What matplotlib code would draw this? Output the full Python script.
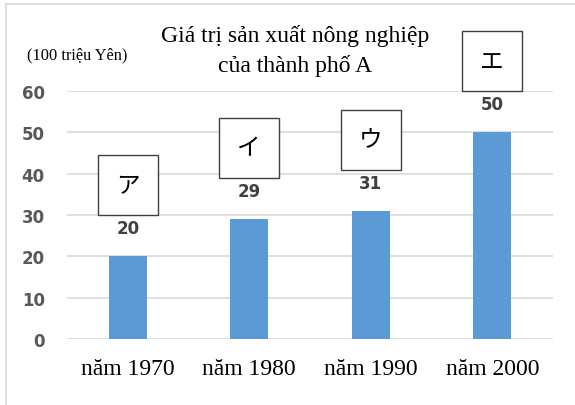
import matplotlib
matplotlib.use("Agg")
import matplotlib.pyplot as plt
import matplotlib.transforms as mtransforms
from matplotlib.patches import Rectangle
from matplotlib.lines import Line2D

categories = ["năm 1970", "năm 1980", "năm 1990", "năm 2000"]
values = [20, 29, 31, 50]
box_labels = ["ア", "イ", "ウ", "エ"]
yticks = [0, 10, 20, 30, 40, 50, 60]
title = "Giá trị sản xuất nông nghiệp\ncủa thành phố A"
unit_label = "(100 triệu Yên)"

W, H = 575, 406
fig = plt.figure(figsize=(W / 100, H / 100), dpi=100)
fig.patch.set_facecolor("white")

ax = fig.add_axes([67 / W, (H - 340) / H, (553 - 67) / W, (340 - 92) / H])
x = list(range(len(categories)))
ax.bar(x, values, width=0.31, color="#5B9BD5", zorder=3)
ax.set_xlim(-0.5, len(categories) - 0.5)
ax.set_ylim(0, 60)
ax.set_yticks(yticks)
ax.set_yticklabels([str(t) for t in yticks], fontsize=12, fontweight="bold",
                   color="#595959", family="DejaVu Sans")
ax.set_xticks(x)
ax.set_xticklabels(categories, fontsize=17, family="Liberation Serif", color="black")
ax.tick_params(axis="both", length=0)
ax.tick_params(axis="y", pad=16)
ax.tick_params(axis="x", pad=14)
ax.grid(axis="y", color="#D9D9D9", linewidth=1.2, zorder=0)
for s in ax.spines.values():
    s.set_visible(False)
ax.set_axisbelow(True)

for xi, v, lab in zip(x, values, box_labels):
    ax.annotate(str(v), (xi, v), xytext=(0, 28 * 0.72), textcoords="offset points",
                ha="center", va="center", fontsize=12, fontweight="bold",
                color="#404040", family="DejaVu Sans")
    t = fig.dpi_scale_trans + mtransforms.ScaledTranslation(xi, v, ax.transData)
    ax.add_patch(Rectangle((-0.30, 0.41), 0.60, 0.60, transform=t, fill=True,
                           facecolor="white", edgecolor="#404040", linewidth=1.0,
                           zorder=5, clip_on=False))
    ax.text(0, 0.71, lab, transform=t, ha="center", va="center", fontsize=17,
            family=["Noto Sans CJK JP", "DejaVu Sans"], color="black", zorder=6)

fig.text(295 / W, 1 - 51 / H, title, ha="center", va="center", fontsize=17,
         family="Liberation Serif", linespacing=1.45)
fig.text(77 / W, 1 - 55 / H, unit_label, ha="center", va="center", fontsize=11.8,
         family="Liberation Serif")

# chart border (left and top visible)
fig.add_artist(Line2D([5.5 / W, 5.5 / W], [0, 1 - 4.5 / H], transform=fig.transFigure,
                      color="#D9D9D9", linewidth=1.2))
fig.add_artist(Line2D([5.5 / W, 1], [1 - 4.5 / H, 1 - 4.5 / H], transform=fig.transFigure,
                      color="#D9D9D9", linewidth=1.2))

fig.savefig("out.png", dpi=100)
